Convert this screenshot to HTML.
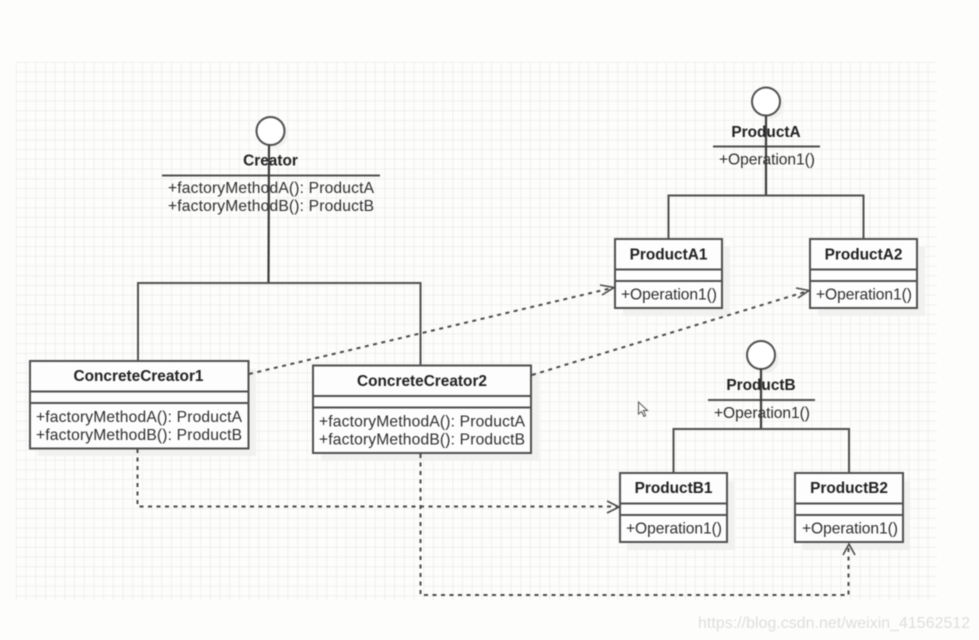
<!DOCTYPE html>
<html>
<head>
<meta charset="utf-8">
<style>
html,body{margin:0;padding:0;background:#fdfdfc;width:979px;height:640px;overflow:hidden}
svg{display:block;filter:blur(.5px)}
text{font-family:"Liberation Sans",Arial,sans-serif;fill:#2e2e2e}
.b{font-weight:bold;font-size:15.400px;text-anchor:middle;fill:#222}
.m{font-size:15.600px}
.box{fill:#fdfdfd;stroke:#505050;stroke-width:2}
.sh{fill:#f1f1ef}
.l{stroke:#505050;stroke-width:2;fill:none}
.c{stroke:#3c3c3c;stroke-width:2.200;fill:none}
.d{stroke:#4a4a4a;stroke-width:2;fill:none;stroke-dasharray:4 4.500}
.a{stroke:#4a4a4a;stroke-width:1.600;fill:none}
</style>
</head>
<body>
<svg width="979" height="640" viewBox="0 0 979 640" xmlns="http://www.w3.org/2000/svg">
<defs>
<pattern id="g" width="9.7" height="9.7" patternUnits="userSpaceOnUse" x="16" y="62">
<path d="M0 0H9.7M0 0V9.7" stroke="#e8e8e6" stroke-width="1.200"/>
</pattern>
</defs>
<rect width="979" height="640" fill="#fdfdfc"/>
<rect x="16" y="62" width="921" height="538" fill="url(#g)"/>

<!-- shadows -->
<rect class="sh" x="38" y="369" width="218" height="87"/>
<rect class="sh" x="321" y="373" width="218" height="88"/>
<rect class="sh" x="623" y="247" width="107" height="69"/>
<rect class="sh" x="818" y="247" width="107" height="69"/>
<rect class="sh" x="628" y="481" width="107" height="69"/>
<rect class="sh" x="803" y="481" width="107" height="69"/>
<circle cx="274" cy="134" r="14" fill="#f1f1ef"/>
<circle cx="770" cy="105" r="14" fill="#f1f1ef"/>
<circle cx="765" cy="359" r="14" fill="#f1f1ef"/>

<!-- Creator interface -->
<text class="b" x="270.500" y="165.500">Creator</text>
<line class="l" x1="162" y1="175.500" x2="380" y2="175.500"/>
<text class="m" x="168" y="193" textLength="206">+factoryMethodA(): ProductA</text>
<text class="m" x="168" y="211" textLength="206">+factoryMethodB(): ProductB</text>
<circle cx="270.500" cy="131" r="14" fill="#fff" stroke="#505050" stroke-width="2"/>
<line class="c" x1="269" y1="145" x2="268.500" y2="283"/>
<path class="l" d="M138 361V283H420.500V365"/>

<!-- ProductA interface -->
<text class="b" x="766" y="137">ProductA</text>
<line class="l" x1="713" y1="146.500" x2="820" y2="146.500"/>
<text class="m" x="719" y="164.500" textLength="96">+Operation1()</text>
<circle cx="766" cy="101.500" r="14" fill="#fff" stroke="#505050" stroke-width="2"/>
<line class="c" x1="766" y1="116" x2="766" y2="195"/>
<path class="l" d="M668.500 239V195.500H863.500V239"/>

<!-- ProductB interface -->
<text class="b" x="761" y="390">ProductB</text>
<line class="l" x1="708" y1="400" x2="815" y2="400"/>
<text class="m" x="714" y="418" textLength="96">+Operation1()</text>
<circle cx="761" cy="355" r="14" fill="#fff" stroke="#505050" stroke-width="2"/>
<line class="c" x1="761" y1="369" x2="761" y2="429"/>
<path class="l" d="M673.500 473V429H849V473"/>

<!-- ConcreteCreator1 -->
<rect class="box" x="30" y="361" width="218.500" height="87.500"/>
<line class="l" x1="30" y1="391.500" x2="248" y2="391.500"/>
<line class="l" x1="30" y1="403" x2="248" y2="403"/>
<text class="b" x="138.500" y="381">ConcreteCreator1</text>
<text class="m" x="36" y="422" textLength="206">+factoryMethodA(): ProductA</text>
<text class="m" x="36" y="440" textLength="206">+factoryMethodB(): ProductB</text>

<!-- ConcreteCreator2 -->
<rect class="box" x="313" y="365.500" width="218" height="87.500"/>
<line class="l" x1="313" y1="396" x2="531" y2="396"/>
<line class="l" x1="313" y1="407.500" x2="531" y2="407.500"/>
<text class="b" x="422" y="386">ConcreteCreator2</text>
<text class="m" x="319" y="426.500" textLength="206">+factoryMethodA(): ProductA</text>
<text class="m" x="319" y="444.500" textLength="206">+factoryMethodB(): ProductB</text>

<!-- ProductA1 -->
<rect class="box" x="615" y="239" width="107" height="69"/>
<line class="l" x1="615" y1="269.500" x2="722" y2="269.500"/>
<line class="l" x1="615" y1="281" x2="722" y2="281"/>
<text class="b" x="668.500" y="259.500">ProductA1</text>
<text class="m" x="621" y="299.500" textLength="96">+Operation1()</text>

<!-- ProductA2 -->
<rect class="box" x="810" y="239" width="107" height="69"/>
<line class="l" x1="810" y1="269.500" x2="917" y2="269.500"/>
<line class="l" x1="810" y1="281" x2="917" y2="281"/>
<text class="b" x="863.500" y="259.500">ProductA2</text>
<text class="m" x="816" y="299.500" textLength="96">+Operation1()</text>

<!-- ProductB1 -->
<rect class="box" x="620" y="473" width="107" height="69"/>
<line class="l" x1="620" y1="503.500" x2="727" y2="503.500"/>
<line class="l" x1="620" y1="515" x2="727" y2="515"/>
<text class="b" x="673.500" y="493">ProductB1</text>
<text class="m" x="626" y="533.500" textLength="96">+Operation1()</text>

<!-- ProductB2 -->
<rect class="box" x="795" y="473" width="108" height="69"/>
<line class="l" x1="795" y1="503.500" x2="903" y2="503.500"/>
<line class="l" x1="795" y1="515" x2="903" y2="515"/>
<text class="b" x="849" y="493">ProductB2</text>
<text class="m" x="802" y="533.500" textLength="96">+Operation1()</text>

<!-- dependencies -->
<path class="d" d="M249 374L612 288"/>
<path class="a" d="M600 285L614 287.500L602 295"/>
<path class="d" d="M532 375L808 291"/>
<path class="a" d="M796 288L809 290.500L798 298"/>
<path class="d" d="M137.500 449V506.500H618"/>
<path class="a" d="M607 501L619 507L607 513"/>
<path class="d" d="M420.500 454V595H848.500V546"/>
<path class="a" d="M843 555L849 544L855 555"/>

<!-- cursor -->
<path d="M638.500 402V414L641.500 411.500L644 416.500L645.500 415.500L643.500 410.500L647.500 410.500Z" fill="#fdfdfd" stroke="#555" stroke-width="1"/>

<!-- watermark -->
<text x="698" y="628" font-size="15.800" textLength="272" style="fill:#dedede">https://blog.csdn.net/weixin_41562512</text>
</svg>
</body>
</html>
